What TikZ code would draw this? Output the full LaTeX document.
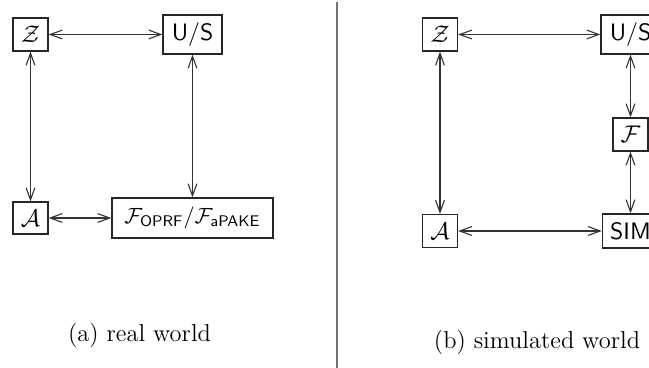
\documentclass[tikz,border=0pt]{standalone}
\usetikzlibrary{arrows.meta}
\begin{document}
\begin{tikzpicture}[x=0.4545pt,y=-0.4545pt,
  font=\fontsize{10.8pt}{13pt}\selectfont,
  box/.style={draw=black!85,line width=0.55pt,inner sep=1pt,font=\fontsize{10.8pt}{13pt}\selectfont\sffamily},
  tipv/.tip={Straight Barb[length=5.5pt,width=4pt,line width=0.5pt]},
  link/.style={draw=black!80,line width=0.5pt,tipv-tipv},
  divider/.style={draw=black!55,line width=0.9pt}]
\clip (0,0) rectangle (649,368);
% left panel: real world
\node[box,minimum width=15.9pt,minimum height=15pt] (z1) at (30.5,34.5) {$\mathcal{Z}$};
\node[box,minimum width=26.8pt,minimum height=17.7pt] (us1) at (192.5,34.5) {U/S};
\node[box,minimum width=15.9pt,minimum height=14.5pt] (a1) at (30.5,218) {$\mathcal{A}$};
\node[box,minimum width=73.2pt,minimum height=18.2pt,font=\fontsize{10pt}{12pt}\selectfont\sffamily] (f1) at (192.5,218) {$\mathcal{F}_{\mathsf{OPRF}}/\mathcal{F}_{\mathsf{aPAKE}}$};
\draw[link] (z1) -- (us1);
\draw[link] (z1) -- (a1);
\draw[link] (us1) -- (f1);
\draw[link] (a1) -- (f1);
% divider
\coordinate (dtop) at (337,2);
\coordinate (dbot) at (337,368);
\draw[divider] (dtop) -- (dbot);
% right panel: simulated world
\node[box,minimum width=15.9pt,minimum height=15pt] (z2) at (440,34.5) {$\mathcal{Z}$};
\node[box,minimum width=26.8pt,minimum height=17.7pt] (us2) at (630.5,34.5) {U/S};
\node[box,minimum width=15.9pt,minimum height=15pt] (f2) at (630.5,134.5) {$\mathcal{F}$};
\node[box,minimum width=15.9pt,minimum height=15pt] (a2) at (440,231) {$\mathcal{A}$};
\node[box,minimum width=25.5pt,minimum height=15.5pt] (sim) at (630.5,231) {SIM};
\draw[link] (z2) -- (us2);
\draw[link] (z2) -- (a2);
\draw[link] (us2) -- (f2);
\draw[link] (f2) -- (sim);
\draw[link] (a2) -- (sim);
% captions
\node[anchor=base,font=\fontsize{11.1pt}{13.5pt}\selectfont] (capa) at (139.5,342) {(a) real world};
\node[anchor=base,font=\fontsize{11.1pt}{13.5pt}\selectfont] (capb) at (537,349) {(b) simulated world};
\end{tikzpicture}
\end{document}
